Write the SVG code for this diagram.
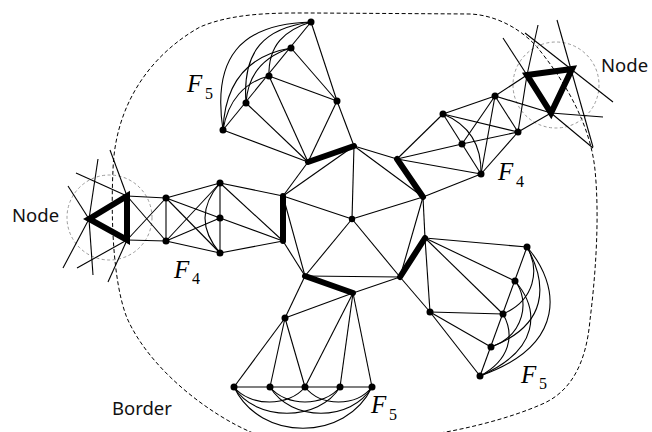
<svg xmlns="http://www.w3.org/2000/svg" width="652" height="432" viewBox="0 0 652 432">
<style>
.e{stroke:#000;stroke-width:1.1;fill:none}
.k{stroke:#000;stroke-width:6;stroke-linecap:round;fill:none}
.tri{stroke:#000;stroke-width:6;stroke-linejoin:miter;fill:none}
.b{stroke:#000;stroke-width:1;stroke-dasharray:4 2.5;fill:none}
.c{stroke:#999;stroke-width:1;stroke-dasharray:3 2.5;fill:none}
.d{fill:#000}
.lab{font-family:"Noto Sans","Open Sans",sans-serif;font-size:18.5px;fill:#111}
.f{font-family:"Liberation Serif","DejaVu Serif",serif;font-style:italic;font-size:25px;fill:#000}
.s{font-family:"Liberation Serif","DejaVu Serif",serif;font-size:16px;fill:#000}
</style>
<rect width="652" height="432" fill="#fff"/>
<g id="border">
<path class="b" d="M253,433 C210,415 150,370 127,318 C112,280 111,210 113,170 C115,105 150,55 200,27 C235,12 280,13 313,13 L470,14 C495,15 520,28 537,47 C560,75 590,120 595,170 C600,220 595,280 590,320 C586,365 570,393 540,405 C510,418 470,428 440,433"/>
</g>
<g id="node-left">
<circle class="c" cx="109.5" cy="217.5" r="42.5"/>
<g class="e">
<line x1="76" y1="173" x2="127" y2="196"/>
<line x1="110" y1="150" x2="127" y2="196"/>
<line x1="68" y1="186" x2="89" y2="219"/>
<line x1="98" y1="159" x2="89" y2="219"/>
<line x1="89" y1="219" x2="93" y2="275"/>
<line x1="63" y1="268" x2="89" y2="219"/>
<line x1="77" y1="268" x2="127" y2="240"/>
<line x1="108" y1="282" x2="127" y2="240"/>
</g>
<polygon class="tri" points="89,219 127,196 127,240"/>
</g>
<g id="node-right">
<circle class="c" cx="556" cy="85" r="43"/>
<g class="e">
<line x1="503" y1="38" x2="527" y2="75"/>
<line x1="538" y1="25" x2="527" y2="75"/>
<line x1="525" y1="33" x2="613" y2="102"/>
<line x1="557" y1="20" x2="593" y2="147"/>
<line x1="551" y1="113" x2="603" y2="117"/>
<line x1="551" y1="113" x2="593" y2="148"/>
</g>
<polygon class="tri" points="527,75 572,69 551,113"/>
</g>
<g id="connectors" class="e">
<line x1="352" y1="219" x2="354" y2="146"/>
<line x1="352" y1="219" x2="283" y2="196"/>
<line x1="352" y1="219" x2="305" y2="276"/>
<line x1="352" y1="219" x2="400" y2="277"/>
<line x1="352" y1="219" x2="423" y2="197"/>
<line x1="354" y1="146" x2="283" y2="196"/>
<line x1="283" y1="196" x2="305" y2="276"/>
<line x1="305" y1="276" x2="400" y2="277"/>
<line x1="400" y1="277" x2="423" y2="197"/>
<line x1="423" y1="197" x2="354" y2="146"/>
<line x1="308" y1="162" x2="283" y2="196"/>
<line x1="283" y1="241" x2="305" y2="276"/>
<line x1="353" y1="293" x2="400" y2="277"/>
<line x1="425" y1="238" x2="423" y2="197"/>
<line x1="397" y1="159" x2="354" y2="146"/>
<line x1="311" y1="22" x2="223" y2="130"/>
<line x1="311" y1="22" x2="337" y2="101"/>
<line x1="291" y1="48" x2="337" y2="101"/>
<line x1="269" y1="76" x2="337" y2="101"/>
<line x1="337" y1="101" x2="308" y2="162"/>
<line x1="337" y1="101" x2="354" y2="146"/>
<line x1="269" y1="76" x2="308" y2="162"/>
<line x1="246" y1="103" x2="308" y2="162"/>
<line x1="223" y1="130" x2="308" y2="162"/>
<path d="M311,22 C240,24 212,58 223,130"/>
<path d="M311,22 C265,28 242,50 246,103"/>
<path d="M311,22 C285,30 268,45 269,76"/>
<path d="M291,48 C250,55 225,80 223,130"/>
<path d="M291,48 C265,56 248,72 246,103"/>
<path d="M269,76 C245,82 228,100 223,130"/>
<line x1="234" y1="387" x2="372" y2="387"/>
<line x1="285" y1="318" x2="353" y2="293"/>
<line x1="285" y1="318" x2="305" y2="276"/>
<line x1="285" y1="318" x2="234" y2="387"/>
<line x1="285" y1="318" x2="270" y2="387"/>
<line x1="285" y1="318" x2="305" y2="387"/>
<line x1="353" y1="293" x2="305" y2="387"/>
<line x1="353" y1="293" x2="340" y2="387"/>
<line x1="353" y1="293" x2="372" y2="387"/>
<path d="M234,387 C250,407 289,407 305,387"/>
<path d="M270,387 C286,407 324,407 340,387"/>
<path d="M305,387 C321,407 356,407 372,387"/>
<path d="M234,387 C255,422 319,422 340,387"/>
<path d="M270,387 C291,422 351,422 372,387"/>
<path d="M234,387 C260,442 346,442 372,387"/>
<line x1="527" y1="247" x2="480" y2="376"/>
<line x1="425" y1="238" x2="527" y2="247"/>
<line x1="425" y1="238" x2="515" y2="281"/>
<line x1="425" y1="238" x2="503" y2="314"/>
<line x1="425" y1="238" x2="430" y2="312"/>
<line x1="400" y1="277" x2="430" y2="312"/>
<line x1="430" y1="312" x2="503" y2="314"/>
<line x1="430" y1="312" x2="491" y2="347"/>
<line x1="430" y1="312" x2="480" y2="376"/>
<path d="M527,247 C560,285 568,345 480,376"/>
<path d="M527,247 C548,285 548,325 491,347"/>
<path d="M527,247 C540,270 535,300 503,314"/>
<path d="M515,281 C540,310 540,350 480,376"/>
<path d="M515,281 C530,300 525,335 491,347"/>
<path d="M503,314 C515,335 510,360 480,376"/>
<line x1="127" y1="196" x2="166" y2="198"/>
<line x1="127" y1="240" x2="166" y2="241"/>
<line x1="127" y1="196" x2="166" y2="241"/>
<line x1="127" y1="240" x2="166" y2="198"/>
<line x1="166" y1="198" x2="166" y2="241"/>
<line x1="166" y1="198" x2="220" y2="183"/>
<line x1="166" y1="198" x2="220" y2="218"/>
<line x1="166" y1="198" x2="220" y2="253"/>
<line x1="166" y1="241" x2="220" y2="183"/>
<line x1="166" y1="241" x2="220" y2="218"/>
<line x1="166" y1="241" x2="220" y2="253"/>
<line x1="220" y1="183" x2="220" y2="253"/>
<path d="M220,183 Q190,218 220,253"/>
<line x1="220" y1="183" x2="283" y2="196"/>
<line x1="220" y1="183" x2="283" y2="241"/>
<line x1="220" y1="218" x2="283" y2="241"/>
<line x1="220" y1="253" x2="283" y2="241"/>
<line x1="495" y1="96" x2="527" y2="75"/>
<line x1="518" y1="132" x2="551" y2="113"/>
<line x1="495" y1="96" x2="551" y2="113"/>
<line x1="518" y1="132" x2="527" y2="75"/>
<line x1="495" y1="96" x2="518" y2="132"/>
<line x1="495" y1="96" x2="443" y2="114"/>
<line x1="495" y1="96" x2="462" y2="144"/>
<line x1="495" y1="96" x2="481" y2="174"/>
<line x1="518" y1="132" x2="443" y2="114"/>
<line x1="518" y1="132" x2="462" y2="144"/>
<line x1="518" y1="132" x2="481" y2="174"/>
<line x1="443" y1="114" x2="481" y2="174"/>
<path d="M443,114 Q482,130 481,174"/>
<line x1="443" y1="114" x2="397" y2="159"/>
<line x1="462" y1="144" x2="397" y2="159"/>
<line x1="481" y1="174" x2="397" y2="159"/>
<line x1="481" y1="174" x2="423" y2="197"/>
</g>
<g id="thick-edges">
<line class="k" x1="308" y1="162" x2="354" y2="146"/>
<line class="k" x1="283" y1="196" x2="283" y2="241"/>
<line class="k" x1="305" y1="276" x2="353" y2="293"/>
<line class="k" x1="400" y1="277" x2="425" y2="238"/>
<line class="k" x1="397" y1="159" x2="423" y2="197"/>
</g>
<g id="center"><circle class="d" cx="352" cy="219" r="3.2"/></g>
<g id="F5-top" class="d">
<circle cx="311" cy="22" r="3.5"/><circle cx="291" cy="48" r="3.5"/><circle cx="269" cy="76" r="3.5"/><circle cx="246" cy="103" r="3.5"/><circle cx="223" cy="130" r="3.5"/><circle cx="337" cy="101" r="3.5"/>
</g>
<g id="F5-bottom" class="d">
<circle cx="234" cy="387" r="3.5"/><circle cx="270" cy="387" r="3.5"/><circle cx="305" cy="387" r="3.5"/><circle cx="340" cy="387" r="3.5"/><circle cx="372" cy="387" r="3.5"/><circle cx="285" cy="318" r="3.5"/>
</g>
<g id="F5-right" class="d">
<circle cx="527" cy="247" r="3.5"/><circle cx="515" cy="281" r="3.5"/><circle cx="503" cy="314" r="3.5"/><circle cx="491" cy="347" r="3.5"/><circle cx="480" cy="376" r="3.5"/><circle cx="430" cy="312" r="3.5"/>
</g>
<g id="F4-left" class="d">
<circle cx="166" cy="198" r="3.5"/><circle cx="166" cy="241" r="3.5"/><circle cx="220" cy="183" r="3.5"/><circle cx="220" cy="218" r="3.5"/><circle cx="220" cy="253" r="3.5"/>
</g>
<g id="F4-right" class="d">
<circle cx="443" cy="114" r="3.5"/><circle cx="495" cy="96" r="3.5"/><circle cx="462" cy="144" r="3.5"/><circle cx="518" cy="132" r="3.5"/><circle cx="481" cy="174" r="3.5"/>
</g>
<g id="labels">
<text class="f" x="187" y="92">F</text><text class="s" x="205" y="99">5</text>
<text class="f" x="498" y="180">F</text><text class="s" x="516" y="187">4</text>
<text class="f" x="174" y="278">F</text><text class="s" x="192" y="284">4</text>
<text class="f" x="521" y="383">F</text><text class="s" x="539" y="389">5</text>
<text class="f" x="371" y="413">F</text><text class="s" x="389" y="420">5</text>
<text class="lab" x="12" y="222">Node</text>
<text class="lab" x="601" y="72">Node</text>
<text class="lab" x="112" y="415">Border</text>
</g>
</svg>
